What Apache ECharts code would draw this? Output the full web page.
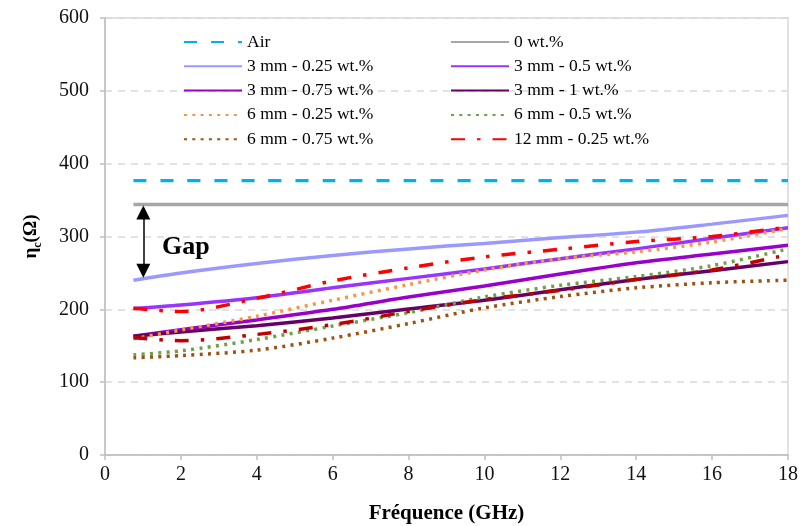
<!DOCTYPE html>
<html>
<head>
<meta charset="utf-8">
<script src="https://cdn.jsdelivr.net/npm/echarts@6/dist/echarts.min.js"></script>
<style>
html,body{margin:0;padding:0;background:#fff;}
#chart{width:800px;height:526px;}
</style>
</head>
<body>
<div id="chart"></div>
<script>
// ---- data ----
const freq = [0.75, 2, 4, 6, 8, 10, 12, 14, 16, 18];
const air      = [376.7, 376.7, 376.7, 376.7, 376.7, 376.7, 376.7, 376.7, 376.7, 376.7];
const wt0      = [344, 344, 344, 344, 344, 344, 344, 344, 344, 344];
const mm3_025  = [240, 250, 263, 274, 283, 290.5, 298.5, 306, 317, 329];
const mm3_05   = [201, 206, 216, 229.5, 242.5, 255.5, 269.5, 283, 297.5, 312];
const mm3_075  = [163, 172, 185.5, 200, 217, 232, 248.5, 264, 276, 288];
const mm3_1    = [163, 169, 177.5, 188, 200.5, 212.5, 227, 241, 253, 265.5];
const mm6_025  = [159.5, 171.5, 190.5, 212.5, 234, 254, 269.5, 279, 292.5, 311];
const mm6_05   = [137.5, 143, 158.5, 177, 195.5, 217, 233, 245, 260, 283];
const mm6_075  = [133.5, 136.5, 144, 160.5, 180.5, 202, 217.5, 229.5, 236.5, 240];
const mm12_025 = [201.5, 197, 215, 239, 257, 272, 282.5, 293, 300, 313];
const mm12_b   = [161, 157, 165.5, 179, 197, 213.5, 226, 241, 254, 275];
const seriesNames = ['Air', '0 wt.%', '3 mm - 0.25 wt.%', '3 mm - 0.5 wt.%', '3 mm - 0.75 wt.%',
  '3 mm - 1 wt.%', '6 mm - 0.25 wt.%', '6 mm - 0.5 wt.%', '6 mm - 0.75 wt.%', '12 mm - 0.25 wt.%'];
const xTicks = [0, 18, 2];
const yTicks = [0, 600, 100];
const gapArrow = {x: 1.01, top: 333, bottom: 253};
const gapLabel = 'Gap';

// ---- build ----
const zip = arr => freq.map((f, i) => [f, arr[i]]);
const serif = 'Liberation Serif, Times New Roman, serif';
const styles = [
  {c: '#00B0F0', t: [13, 14], w: 3.2},
  {c: '#A6A6A6', t: 'solid', w: 3.5},
  {c: '#9999FF', t: 'solid', w: 3.5},
  {c: '#9933FF', t: 'solid', w: 3.5},
  {c: '#9900CC', t: 'solid', w: 3.5},
  {c: '#660066', t: 'solid', w: 3.5},
  {c: '#F79646', t: [3, 5.3], w: 3.5},
  {c: '#70A046', t: [3, 5.3], w: 3.5},
  {c: '#9C5210', t: [3, 5.3], w: 3.5},
  {c: '#FF0000', t: [14, 12, 3.5, 12], w: 3.5},
  {c: '#C00000', t: [14, 12, 3.5, 12], w: 3.5}
];
const datasets = [air, wt0, mm3_025, mm3_05, mm3_075, mm3_1, mm6_025, mm6_05, mm6_075, mm12_025, mm12_b];
const names = seriesNames.concat(['12 mm (b)']);
const series = datasets.map((d, i) => {
  const s = styles[i];
  return {
    name: names[i], type: 'line', data: zip(d), symbol: 'none', smooth: 0.3,
    lineStyle: {color: s.c, width: s.w, type: s.t},
    itemStyle: {color: s.c},
    silent: true, z: 2 + i
  };
});
series[1].markLine = {
  silent: true, animation: false,
  symbol: ['triangle', 'triangle'], symbolSize: [14, 14],
  label: {show: false},
  lineStyle: {color: '#000', width: 1.5, type: 'solid'},
  data: [[{coord: [gapArrow.x, gapArrow.top]}, {coord: [gapArrow.x, gapArrow.bottom]}]]
};

const legendBase = {
  orient: 'vertical', itemWidth: 58, itemHeight: 12, itemGap: 6.3, selectedMode: false, padding: 0,
  itemStyle: {opacity: 0},
  textStyle: {fontFamily: serif, fontSize: 17.5, color: '#000', lineHeight: 18}
};

const chart = echarts.init(document.getElementById('chart'), null, {renderer: 'canvas'});
chart.setOption({
  animation: false,
  backgroundColor: '#fff',
  grid: {left: 105, right: 12, top: 18, bottom: 71, show: true, borderColor: '#D9D9D9', borderWidth: 1.5,
         containLabel: false, outerBoundsMode: 'none'},
  legend: [
    Object.assign({}, legendBase, {left: 183, top: 33, data: [names[0], names[2], names[4], names[6], names[8]]}),
    Object.assign({}, legendBase, {left: 450, top: 33, data: [names[1], names[3], names[5], names[7], names[9]]})
  ],
  xAxis: {
    type: 'value', min: xTicks[0], max: xTicks[1], interval: xTicks[2],
    name: 'Fréquence (GHz)', nameLocation: 'middle', nameGap: 48,
    nameTextStyle: {fontFamily: serif, fontSize: 21, fontWeight: 'bold', color: '#000'},
    axisLine: {show: true, lineStyle: {color: '#BFBFBF', width: 1.5}},
    axisTick: {show: true, length: 5, lineStyle: {color: '#BFBFBF', width: 1.5}},
    axisLabel: {fontFamily: serif, fontSize: 20, color: '#111', margin: 10},
    splitLine: {show: false}
  },
  yAxis: {
    type: 'value', min: yTicks[0], max: yTicks[1], interval: yTicks[2],
    name: '{b|η}{s|c}{b|(Ω)}', nameLocation: 'middle', nameGap: 64, nameRotate: 90,
    nameTextStyle: {
      rich: {
        b: {fontFamily: serif, fontSize: 19, fontWeight: 'bold', color: '#000', lineHeight: 22, verticalAlign: 'bottom'},
        s: {fontFamily: serif, fontSize: 12, fontWeight: 'bold', color: '#000', lineHeight: 22, verticalAlign: 'bottom', padding: [0, 0, -3, 0]}
      }
    },
    axisLine: {show: true, lineStyle: {color: '#BFBFBF', width: 1.5}},
    axisTick: {show: true, length: 5, lineStyle: {color: '#BFBFBF', width: 1.5}},
    axisLabel: {fontFamily: serif, fontSize: 20, color: '#111', margin: 16},
    splitLine: {show: true, lineStyle: {color: '#D9D9D9', width: 1.5, type: [7, 6]}}
  },
  graphic: [{
    type: 'text', left: 162, top: 234, silent: true, z: 100,
    style: {text: gapLabel, fontFamily: serif, fontSize: 26, fontWeight: 'bold', fill: '#000'}
  }],
  series: series
});
</script>
</body>
</html>
